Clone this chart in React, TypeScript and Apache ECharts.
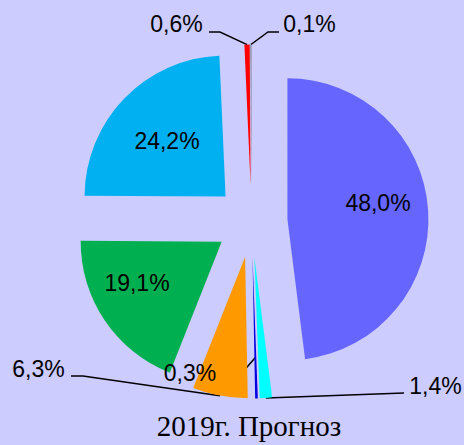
import { useEffect, useRef } from 'react';
import * as echarts from 'echarts';

// ---- data ----
const categories = ['Сегмент 1', 'Сегмент 2', 'Сегмент 3', 'Сегмент 4', 'Сегмент 5', 'Сегмент 6', 'Сегмент 7', 'Сегмент 8'];
const values = [48.0, 1.4, 0.3, 6.3, 19.1, 24.2, 0.6, 0.1];
const titleText = '2019г. Прогноз';

// ---- style ----
const colors = ['#6666FF', '#00FFFF', '#0000E0', '#FF9900', '#00B050', '#00B0F0', '#FF0000', '#666666'];
const W = 464;
const H = 445;
const CX = 251.5;
const CY = 221.5;
const R = 141;
const EXPLODE = 36;
const SANS = 'Arial, "Liberation Sans", sans-serif';
const SERIF = '"Times New Roman", "Liberation Serif", serif';

type LabelPlace = { x: number; y: number; inside: boolean; lineR?: number; line?: number[][] };
const labelPlaces: LabelPlace[] = [
  { x: 378, y: 203, inside: true },
  { x: 435.5, y: 386, inside: false, line: [[404, 393]] },
  { x: 190, y: 373, inside: false, lineR: 0.71, line: [[235, 381], [223, 381]] },
  { x: 38.5, y: 369, inside: false, line: [[83, 376], [71, 376]] },
  { x: 137, y: 283, inside: true },
  { x: 167, y: 141, inside: true },
  { x: 176.5, y: 24, inside: false, line: [[220, 32], [209, 32]] },
  { x: 309.5, y: 24, inside: false, line: [[268, 32], [279, 32]] },
];

const fmt = (p: any) => Number(p.value).toFixed(1).replace('.', ',') + '%';

export default function App() {
  const ref = useRef<HTMLDivElement>(null);
  useEffect(() => {
    if (!ref.current) return;
    const chart = echarts.init(ref.current, null, { renderer: 'svg' });
    const total = values.reduce((a, b) => a + b, 0);
    let acc = 0;
    const series = values.map((v, i) => {
      const mid = ((acc + v / 2) / total) * 2 * Math.PI;
      acc += v;
      const cx = CX + EXPLODE * Math.sin(mid);
      const cy = CY - EXPLODE * Math.cos(mid);
      const lp = labelPlaces[i];
      return {
        type: 'pie',
        name: categories[i],
        center: [cx, cy],
        radius: R,
        startAngle: 90,
        clockwise: true,
        avoidLabelOverlap: false,
        silent: true,
        minShowLabelAngle: 0,
        itemStyle: { borderWidth: 0 },
        label: {
          position: lp.inside ? 'inside' : 'outside',
          formatter: fmt,
          fontSize: 23,
          fontFamily: SANS,
          color: '#000',
        },
        labelLine: { length: 10, length2: 10, lineStyle: { color: '#000', width: 1.5 } },
        data: values.map((vv, j) => ({
          name: categories[j],
          value: vv,
          itemStyle: { color: j === i ? colors[j] : 'rgba(0,0,0,0)' },
          label: { show: j === i },
          labelLine: { show: j === i && !lp.inside },
        })),
        labelLayout: (params: any) => {
          if (params.dataIndex !== i) return {};
          const out: any = { x: lp.x, y: lp.y, align: 'center', verticalAlign: 'middle' };
          if (!lp.inside && lp.line) {
            const r = R * (lp.lineR ?? 1);
            out.labelLinePoints = [[cx + r * Math.sin(mid), cy - r * Math.cos(mid)], ...lp.line];
          }
          return out;
        },
      };
    });
    chart.setOption({
      animation: false,
      backgroundColor: '#CCCCFF',
      title: {
        text: titleText,
        left: 244,
        top: 406,
        textAlign: 'center',
        textStyle: { fontFamily: SERIF, fontSize: 29, fontWeight: 'normal', color: '#000' },
      },
      series,
    } as any);
    return () => chart.dispose();
  }, []);
  return <div ref={ref} style={{ position: 'fixed', left: 0, top: 0, width: W, height: H }} />;
}
